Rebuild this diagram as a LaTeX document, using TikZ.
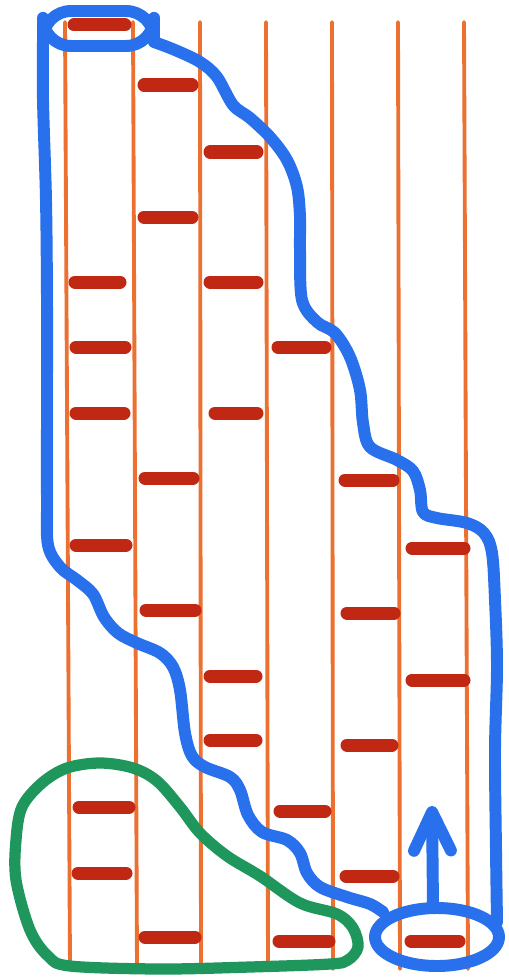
\documentclass[tikz,border=0pt]{standalone}
\usepackage{tikz}
\usetikzlibrary{arrows.meta}
\definecolor{railcol}{RGB}{236,112,48}
\definecolor{rungcol}{RGB}{192,40,20}
\definecolor{markblue}{RGB}{40,112,236}
\definecolor{markgreen}{RGB}{30,150,92}

\begin{document}
\begin{tikzpicture}[x=0.02cm,y=-0.02cm,
    railline/.style={railcol,line width=2.2pt,line cap=round},
    rungbar/.style={rungcol,line width=7.4pt,line cap=round},
    bluemark/.style={markblue,line width=6.8pt,line cap=round,line join=round},
    greenmark/.style={markgreen,line width=6.4pt,line join=round}]
      \useasboundingbox[fill=white] (0,0) rectangle (509,980);
      % the seven rails
      \foreach \xt/\xb [count=\i] in {65/70,133/137,200/201,266/268,332/333,398/400,464/468}
        \draw[railline] (\xt,22) coordinate (t\i) -- (\xb,969) coordinate (b\i);
      % rungs
      \foreach \xa/\xb/\y in {74/125/25,144/192/85,210/257/152,144/192/217,75/120/282,
          210/257/282,76/125/347,278/325/347,76/124/413,215/257/413,145/193/478,
          345/393/480,76/126/545,412/464/548,146/195/610,347/394/613,210/256/676,
          412/464/680,210/256/740,347/392/745,79/129/807,280/325/811,78/126/873,
          346/393/876,145/195/937,279/329/941,411/459/941}
        \draw[rungbar] (\xa,\y) -- (\xb,\y);
      % blue outline
      \draw[bluemark,rounded corners=16] (43,11) rectangle (154,46);
      \draw[bluemark] plot[smooth,tension=.55] coordinates {(43,40) (43,100) (46,200)
          (47,300) (47,400) (47,500) (48,545) (60,567) (77,580) (93,594) (104,617)
          (118,633) (137,643) (160,653) (173,667) (180,690) (185,733) (192,756)
          (205,767) (230,777) (240,790) (248,815) (262,832) (287,840) (300,853)
          (307,873) (320,887) (347,897) (370,904) (383,912)};
      \draw[bluemark] plot[smooth,tension=.55] coordinates {(154,42) (175,50) (200,62)
          (217,77) (233,105) (250,118) (270,137) (287,160) (297,187) (300,217)
          (300,250) (302,300) (317,322) (335,333) (350,357) (360,390) (363,423)
          (370,447) (397,460) (413,471) (420,490) (423,512) (437,518) (467,523)
          (484,533) (492,553) (495,600) (497,667) (495,750) (496,850) (497,922)};
      \draw[bluemark] (437,937) ellipse (62 and 29);
      \draw[bluemark,-{Straight Barb[length=22pt,width=21pt,round]}] (433,906) -- (432,806);
      % green outline
      \draw[greenmark] plot[smooth cycle,tension=.55] coordinates {(70,966) (48,956)
          (30,930) (16,880) (16,840) (22,807) (42,783) (67,768) (100,763) (133,768)
          (157,781) (180,807) (200,833) (227,856) (260,876) (300,903) (337,914)
          (353,928) (358,947) (348,960) (330,964) (250,967) (160,969)};
\end{tikzpicture}
\end{document}
